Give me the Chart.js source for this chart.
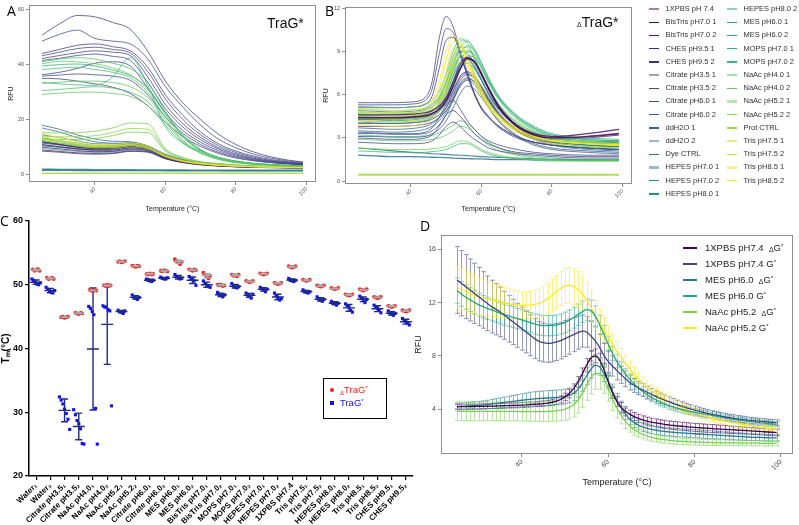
<!DOCTYPE html>
<html><head><meta charset="utf-8"><title>Thermal shift panels</title>
<script src="https://cdn.jsdelivr.net/npm/chart.js@4.4.1/dist/chart.umd.min.js"></script>
<style>
html,body{margin:0;padding:0;background:#fff;}
#wrap{position:relative;width:799px;height:525px;overflow:hidden;background:#fff;font-family:"Liberation Sans",Arial,sans-serif;}
#wrap canvas{position:absolute;}
.t{position:absolute;white-space:nowrap;line-height:1;}
.panel{font-family:"Open Sans","Liberation Sans",sans-serif;font-size:14px;color:#000;}
.lgA{position:absolute;height:10px;font-size:7.5px;color:#333;white-space:nowrap;line-height:10px;width:80px;}
.lgA i{position:absolute;left:0;top:50%;width:10px;}
.lgA span{position:absolute;left:16.5px;top:0;}
.lgD{position:absolute;height:12px;font-size:9.5px;color:#222;white-space:nowrap;line-height:12px;width:100px;}
.lgD i{position:absolute;left:0;top:50%;width:14px;height:2px;margin-top:-1px;}
.lgD span.tx{position:absolute;left:22px;top:0;}
.lgD sup,.lgC sup{font-size:6px;vertical-align:3px;line-height:0;}
.dl{font-size:7px;position:relative;top:1px;line-height:0;}
.lgC{position:absolute;height:12px;font-size:9.5px;white-space:nowrap;line-height:12px;}
</style></head>
<body><div id="wrap">
<canvas id="cA" width="322" height="215" style="left:0;top:0;width:322px;height:215px"></canvas>
<canvas id="cB" width="322" height="215" style="left:318px;top:0;width:322px;height:215px"></canvas>
<canvas id="cC" width="470" height="315" style="left:0;top:210px;width:470px;height:315px"></canvas>
<canvas id="cD" width="394" height="315" style="left:405px;top:210px;width:394px;height:315px"></canvas>
<div class="t panel" style="left:7px;top:4px">A</div>
<div class="t" style="left:267px;top:16px;font-size:14px;color:#111">TraG*</div>
<div class="t panel" style="left:325px;top:4px">B</div>
<div class="t" style="left:577px;top:15px;font-size:14px;color:#111"><span style="font-size:7px">Δ</span>TraG*</div>
<div class="t panel" style="left:0;top:214px">C</div>
<div class="t panel" style="left:420px;top:219px">D</div>
<div style="position:absolute;left:323px;top:378px;width:64px;height:41px;border:1.5px solid #000;box-sizing:border-box;"></div>
<div id="legA"></div><div id="legC"></div><div id="legD"></div>
</div>
<script>
// ---------------- DATA ----------------
const conditions = ['1XPBS pH 7.4','BisTris pH7.0 1','BisTris pH7.0 2','CHES pH9.5 1','CHES pH9.5 2','Citrate pH3.5 1','Citrate pH3.5 2','Citrate pH6.0 1','Citrate pH6.0 2','ddH2O 1','ddH2O 2','Dye CTRL','HEPES pH7.0 1','HEPES pH7.0 2','HEPES pH8.0 1','HEPES pH8.0 2','MES pH6.0 1','MES pH6.0 2','MOPS pH7.0 1','MOPS pH7.0 2','NaAc pH4.0 1','NaAc pH4.0 2','NaAc pH5.2 1','NaAc pH5.2 2','Prot CTRL','Tris pH7.5 1','Tris pH7.5 2','Tris pH8.5 1','Tris pH8.5 2'];
const legendSoft = [0,5,10,12,15,20,22,25,27];

// Panel A (TraG*) – temperatures and RFU curves
const tempA = [25,30,35,40,45,50,55,60,65,70,75,80,85,90,95,99];
const A_c1 = [50.7,54.8,57.8,57.3,55.3,52.8,44.8,34.0,26.0,20.0,14.8,11.0,8.3,6.5,5.3,4.7];
const A_c2 = [48.5,51.0,52.5,49.5,48.5,47.5,42.0,32.0,24.5,18.0,13.0,9.8,7.5,6.0,5.0,4.5];
const A_c3 = [44.0,45.5,47.0,47.5,46.5,45.0,39.0,29.0,21.5,15.5,11.3,8.6,6.8,5.5,4.7,4.2];
const A_c4 = [43.2,44.5,45.8,46.3,45.5,44.2,37.5,27.5,20.0,14.5,10.6,8.1,6.4,5.2,4.5,4.1];
const A_c5 = [42.2,43.3,44.3,45.0,44.5,43.3,35.5,25.5,18.5,13.5,9.9,7.6,6.0,5.0,4.3,4.0];
const A_c6 = [41.5,42.3,43.3,43.8,43.0,41.5,33.5,24.0,17.3,12.7,9.4,7.2,5.8,4.8,4.2,3.9];
const A_c7 = [36.3,37.2,38.6,40.5,41.0,39.5,31.5,22.5,16.0,11.8,8.8,6.8,5.5,4.6,4.1,3.8];
const A_c8 = [35.8,36.2,36.6,36.3,35.8,34.3,29.0,21.0,15.0,11.0,8.2,6.4,5.3,4.5,4.0,3.7];
const A_c9 = [35.0,34.8,34.0,33.0,31.8,29.5,25.0,19.0,13.8,10.3,7.8,6.1,5.1,4.4,3.9,3.6];
const A_n1 = [41.0,42.0,42.5,42.0,40.5,38.5,33.5,23.0,14.5,9.2,6.4,5.0,4.2,3.7,3.4,3.2];
const A_n2 = [40.3,41.2,41.0,40.3,38.8,36.3,31.0,22.0,14.0,9.0,6.2,4.8,4.1,3.7,3.4,3.2];
const A_n3 = [38.2,38.7,39.0,38.2,37.2,35.2,30.0,21.0,13.5,8.7,6.0,4.7,4.0,3.6,3.3,3.1];
const A_n4 = [33.5,33.0,32.6,32.5,35.5,42.5,32.5,17.5,11.5,8.5,6.3,5.0,4.2,3.7,3.4,3.2];
const A_n5 = [33.2,33.6,34.0,34.0,33.5,32.0,28.0,20.0,12.5,8.2,5.8,4.6,3.9,3.5,3.3,3.1];
const A_n6 = [30.5,31.0,31.5,32.0,31.5,30.0,26.5,19.0,12.0,8.0,5.7,4.5,3.9,3.5,3.2,3.0];
const A_n7 = [29.2,29.6,30.0,30.0,29.5,28.5,25.0,18.0,11.5,7.8,5.6,4.4,3.8,3.4,3.2,3.0];
const A_n8 = [39.5,40.0,40.2,39.5,38.0,36.0,31.5,22.5,14.0,9.0,6.2,4.9,4.1,3.7,3.4,3.2];
const A_l1 = [18.0,16.5,14.5,13.0,12.2,12.0,10.5,7.5,5.5,4.5,3.8,3.4,3.1,2.9,2.8,2.7];
const A_l2 = [17.0,15.5,13.5,12.0,11.5,11.5,10.0,7.2,5.3,4.3,3.7,3.3,3.0,2.9,2.8,2.7];
const A_l3 = [15.3,15.2,15.3,15.8,17.0,18.8,18.5,9.5,6.3,4.8,4.1,3.6,3.3,3.1,3.0,2.9];
const A_l4 = [14.0,13.8,13.8,14.2,15.3,16.8,16.5,9.0,6.0,4.6,4.0,3.5,3.2,3.0,2.9,2.8];
const A_l5 = [13.0,12.8,12.8,13.2,14.2,15.5,15.3,8.6,5.8,4.5,3.9,3.5,3.2,3.0,2.9,2.8];
const A_l6 = [15.0,13.5,12.0,11.0,11.0,11.5,10.5,7.2,5.2,4.2,3.6,3.2,3.0,2.8,2.7,2.6];
const A_l7 = [14.0,12.5,11.5,10.5,10.5,11.0,10.0,6.9,5.0,4.1,3.5,3.2,2.9,2.8,2.7,2.6];
const A_l8 = [13.0,12.0,11.0,10.2,10.2,10.8,9.8,6.7,4.9,4.0,3.5,3.1,2.9,2.8,2.7,2.6];
const A_l9 = [12.5,11.5,10.5,9.8,9.8,10.5,9.5,6.5,4.8,3.9,3.4,3.1,2.9,2.7,2.6,2.5];
const A_l10 = [11.0,10.2,9.5,9.0,9.0,9.8,9.2,6.4,4.8,3.9,3.4,3.1,2.9,2.8,2.7,2.6];
const A_l11 = [10.0,9.4,8.8,8.4,8.5,9.3,8.8,6.1,4.6,3.8,3.3,3.0,2.8,2.7,2.6,2.5];
const A_l12 = [9.0,8.5,8.0,7.8,7.9,8.7,8.4,5.9,4.5,3.7,3.2,2.9,2.7,2.6,2.5,2.5];
const A_l13 = [8.6,8.2,7.7,7.5,7.7,8.5,8.2,5.8,4.4,3.6,3.2,2.9,2.7,2.6,2.5,2.4];
const A_l14 = [12.0,11.0,10.0,9.5,9.6,10.3,9.8,7.0,5.2,4.2,3.6,3.2,3.0,2.9,2.8,2.7];
const A_l15 = [11.5,10.8,10.0,9.6,9.8,10.6,9.8,6.8,5.0,4.1,3.5,3.2,2.9,2.8,2.7,2.6];
const A_l16 = [10.5,10.0,9.4,9.1,9.3,10.2,9.5,6.6,4.9,4.0,3.5,3.1,2.9,2.8,2.7,2.6];
const A_l17 = [11.8,11.0,10.2,9.8,10.0,10.8,10.0,7.0,5.1,4.2,3.6,3.2,3.0,2.8,2.7,2.6];
const A_l18 = [12.5,11.5,10.7,10.2,10.3,11.0,10.2,7.1,5.2,4.2,3.6,3.2,3.0,2.8,2.7,2.6];
const A_l19 = [13.5,12.5,11.5,10.8,10.8,11.5,10.5,7.3,5.3,4.3,3.7,3.3,3.0,2.9,2.8,2.7];
const A_l20 = [13.0,12.0,11.0,10.4,10.5,11.2,10.3,7.2,5.2,4.2,3.6,3.2,3.0,2.8,2.7,2.6];
const A_l21 = [10.8,10.0,9.3,8.8,8.9,9.6,9.0,6.3,4.7,3.9,3.4,3.0,2.8,2.7,2.6,2.5];
const A_l22 = [9.5,9.0,8.5,8.2,8.3,9.0,8.6,6.0,4.6,3.8,3.3,3.0,2.8,2.7,2.6,2.5];
const A_l23 = [14.5,13.5,12.3,11.3,11.2,11.6,10.4,7.2,5.2,4.2,3.6,3.2,3.0,2.8,2.7,2.6];
const A_l24 = [12.0,11.2,10.4,9.9,10.0,10.8,9.9,6.9,5.0,4.1,3.5,3.1,2.9,2.8,2.7,2.6];
const A_f1 = [2.0,1.95,1.9,1.85,1.8,1.8,1.75,1.7,1.7,1.65,1.65,1.6,1.6,1.6,1.6,1.6];
const A_f2 = [1.6,1.6,1.55,1.55,1.5,1.5,1.5,1.45,1.45,1.45,1.45,1.4,1.4,1.4,1.4,1.4];
const A_f3 = [0.55,0.55,0.55,0.55,0.55,0.55,0.55,0.55,0.55,0.55,0.55,0.55,0.55,0.55,0.55,0.55];
// [condition index, values, line width] – first entries are drawn on top
const seriesA = [[28,A_l6],[27,A_l7],[26,A_l8],[25,A_l9],[24,A_f3,1.6],[11,A_f1,1.6],[11,A_f2,1.2],
  [22,A_l3],[23,A_l4],[22,A_l5],[9,A_l1],[10,A_l2],[1,A_l10],[2,A_l11],[3,A_l12],[4,A_l13],[0,A_l14],
  [7,A_l15],[8,A_l16],[14,A_l17],[15,A_l18],[16,A_l19],[17,A_l20],[18,A_l21],[19,A_l22],[12,A_l23],[13,A_l24],
  [20,A_n1],[21,A_n2],[20,A_n3],[19,A_n4],[21,A_n5],[20,A_n6],[21,A_n7],[18,A_n8],
  [5,A_c1],[6,A_c2],[5,A_c3],[6,A_c4],[5,A_c5],[6,A_c6],[5,A_c7],[6,A_c8],[5,A_c9]];

// Panel B (ΔTraG*)
const tempB = [25,30,35,40,44,46,48,50,52,54,56,58,60,62,65,70,75,80,90,99];
const B_b1 = [5.45,5.45,5.45,5.5,5.8,6.9,9.9,11.45,10.7,9.0,7.6,6.1,5.1,4.5,3.8,3.1,2.7,2.5,2.3,2.2];
const B_b2 = [5.3,5.3,5.3,5.35,5.6,6.4,8.8,10.6,10.3,8.8,7.3,6.0,5.0,4.4,3.7,3.0,2.7,2.5,2.3,2.2];
const B_b3 = [5.1,5.1,5.1,5.15,5.35,5.9,7.8,9.8,10.0,8.8,7.4,6.1,5.1,4.5,3.8,3.1,2.7,2.5,2.3,2.2];
const B_b4 = [3.4,3.35,3.3,3.3,3.4,3.7,4.4,5.3,5.6,5.0,4.2,3.6,3.1,2.8,2.5,2.2,2.0,1.9,1.8,1.8];
const B_b5 = [3.0,2.95,2.9,2.9,3.0,3.2,3.8,4.6,4.9,4.5,3.9,3.3,2.9,2.6,2.3,2.0,1.9,1.8,1.7,1.7];
const B_b6 = [2.7,2.65,2.6,2.6,2.65,2.8,3.2,3.8,4.1,3.8,3.3,2.9,2.6,2.3,2.1,1.9,1.8,1.7,1.6,1.6];
const B_y1 = [5.0,4.95,4.9,4.95,5.1,5.6,6.9,9.0,10.1,9.5,8.3,7.0,5.9,5.1,4.3,3.5,3.0,2.8,2.6,2.5];
const B_y2 = [4.8,4.75,4.7,4.75,4.9,5.3,6.4,8.4,9.7,9.6,8.6,7.3,6.2,5.3,4.4,3.6,3.1,2.8,2.6,2.5];
const B_y3 = [4.6,4.55,4.5,4.55,4.7,5.0,5.9,7.6,9.2,9.4,8.6,7.4,6.3,5.4,4.5,3.6,3.1,2.8,2.6,2.5];
const B_y4 = [4.4,4.35,4.3,4.35,4.5,4.8,5.5,7.0,8.7,9.2,8.6,7.5,6.4,5.5,4.6,3.7,3.2,2.9,2.7,2.6];
const B_y5 = [4.2,4.15,4.1,4.15,4.3,4.6,5.2,6.5,8.2,8.8,8.3,7.3,6.3,5.4,4.5,3.6,3.1,2.8,2.6,2.5];
const B_y6 = [3.9,3.85,3.8,3.85,4.0,4.3,4.9,6.0,7.6,8.3,8.0,7.1,6.1,5.2,4.3,3.4,2.9,2.6,2.4,2.3];
const B_g1 = [5.2,5.15,5.1,5.15,5.3,5.6,6.2,7.4,9.0,9.9,9.6,8.6,7.5,6.5,5.3,4.1,3.4,3.0,2.7,2.6];
const B_g2 = [5.0,4.95,4.9,4.95,5.1,5.4,5.9,7.0,8.6,9.7,9.8,9.0,7.9,6.8,5.6,4.3,3.5,3.1,2.8,2.7];
const B_g3 = [4.8,4.75,4.7,4.75,4.9,5.15,5.6,6.5,8.0,9.3,9.7,9.2,8.2,7.1,5.8,4.5,3.7,3.2,2.9,2.8];
const B_g4 = [4.6,4.55,4.5,4.55,4.7,4.9,5.3,6.1,7.4,8.8,9.4,9.1,8.2,7.2,5.9,4.6,3.8,3.3,3.0,2.9];
const B_g5 = [4.4,4.35,4.3,4.35,4.5,4.7,5.1,5.8,7.0,8.3,9.0,8.8,8.0,7.0,5.8,4.5,3.7,3.2,2.9,2.8];
const B_g6 = [4.2,4.15,4.1,4.15,4.3,4.5,4.9,5.5,6.6,7.9,8.7,8.6,7.8,6.9,5.7,4.4,3.6,3.1,2.8,2.7];
const B_g7 = [4.7,4.65,4.6,4.65,4.8,5.1,5.7,6.8,8.3,9.3,9.3,8.5,7.4,6.4,5.2,4.0,3.3,2.9,2.6,2.5];
const B_g8 = [4.5,4.45,4.4,4.45,4.6,4.9,5.4,6.4,7.8,8.9,9.1,8.5,7.5,6.5,5.3,4.1,3.4,3.0,2.7,2.6];
const B_t1 = [4.9,4.85,4.8,4.85,5.0,5.3,5.8,6.8,8.2,9.0,8.9,8.1,7.1,6.1,5.0,3.9,3.2,2.8,2.5,2.4];
const B_t2 = [4.5,4.45,4.4,4.45,4.6,4.9,5.4,6.3,7.7,8.6,8.6,7.9,7.0,6.0,4.9,3.8,3.1,2.7,2.4,2.3];
const B_t3 = [4.3,4.25,4.2,4.25,4.4,4.6,5.1,6.0,7.3,8.3,8.5,7.9,7.0,6.1,5.0,3.9,3.2,2.8,2.5,2.4];
const B_t4 = [4.1,4.05,4.0,4.05,4.2,4.4,4.8,5.6,6.8,7.9,8.2,7.8,7.0,6.1,5.0,3.9,3.2,2.8,2.5,2.4];
const B_t5 = [3.7,3.65,3.6,3.65,3.8,4.0,4.4,5.1,6.2,7.2,7.5,7.1,6.4,5.6,4.6,3.6,3.0,2.6,2.3,2.2];
const B_t6 = [3.5,3.45,3.4,3.45,3.6,3.8,4.2,4.8,5.8,6.8,7.2,6.9,6.2,5.5,4.5,3.5,2.9,2.5,2.2,2.1];
const B_p0 = [4.4,4.4,4.4,4.45,4.55,4.7,5.0,5.6,6.6,7.8,8.5,8.3,7.4,6.4,5.1,3.8,3.2,3.0,3.1,3.3];
const B_p1 = [4.6,4.6,4.6,4.65,4.75,4.9,5.2,5.8,6.9,8.1,8.6,8.3,7.5,6.5,5.2,3.9,3.3,3.1,3.3,3.6];
const B_p2 = [4.3,4.3,4.3,4.35,4.45,4.6,4.9,5.4,6.3,7.3,7.6,7.3,6.6,5.8,4.7,3.6,3.1,2.9,3.0,3.2];
const B_p3 = [4.0,4.0,4.0,4.05,4.15,4.3,4.6,5.1,6.0,7.0,7.4,7.2,6.5,5.7,4.7,3.6,3.0,2.8,2.7,2.8];
const B_p4 = [3.8,3.8,3.8,3.85,3.95,4.1,4.4,4.9,5.7,6.7,7.1,6.9,6.3,5.6,4.6,3.5,2.9,2.7,2.6,2.7];
const B_c7 = [3.3,3.3,3.25,3.25,3.3,3.5,3.9,4.6,5.6,6.6,7.0,6.7,6.0,5.2,4.2,3.2,2.6,2.3,2.1,2.0];
const B_c8 = [3.1,3.1,3.05,3.05,3.1,3.3,3.6,4.2,5.1,6.1,6.6,6.4,5.8,5.1,4.1,3.1,2.5,2.2,2.0,1.9];
const B_lg1 = [3.2,3.15,3.1,3.1,3.15,3.2,3.35,3.6,3.9,4.2,4.0,3.6,3.1,2.7,2.3,1.9,1.7,1.6,1.5,1.5];
const B_lg2 = [2.9,2.85,2.8,2.8,2.85,2.9,3.0,3.2,3.5,3.8,3.7,3.3,2.9,2.5,2.1,1.8,1.6,1.5,1.45,1.45];
const B_lg3 = [2.3,2.25,2.2,2.2,2.2,2.25,2.3,2.4,2.6,2.8,2.75,2.5,2.2,2.0,1.8,1.6,1.5,1.45,1.4,1.4];
const B_lg4 = [2.1,2.05,2.0,2.0,2.0,2.05,2.1,2.2,2.4,2.6,2.6,2.4,2.1,1.9,1.7,1.55,1.45,1.4,1.4,1.4];
const B_d1 = [1.8,1.75,1.7,1.7,1.68,1.66,1.65,1.63,1.6,1.58,1.56,1.55,1.54,1.52,1.5,1.5,1.48,1.47,1.45,1.45];
const B_d2 = [2.3,2.2,2.1,2.0,1.95,1.9,1.88,1.86,1.82,1.8,1.77,1.74,1.7,1.68,1.65,1.6,1.55,1.52,1.5,1.48];
const B_pc = [0.45,0.45,0.45,0.45,0.45,0.45,0.45,0.45,0.45,0.45,0.45,0.45,0.45,0.45,0.45,0.45,0.45,0.45,0.45,0.45];
const seriesB = [[0,B_p0,1.6],[1,B_p1,1.2],[28,B_y1],[27,B_y2],[26,B_y3],[25,B_y4],[28,B_y5],[27,B_y6],
  [20,B_g1],[21,B_g2],[19,B_g3],[18,B_g4],[17,B_g5],[16,B_g6],[22,B_g7],[23,B_g8],
  [12,B_t1],[13,B_t2],[14,B_t3],[15,B_t4],[9,B_t5],[10,B_t6],[2,B_p2],[3,B_p3],[4,B_p4],[7,B_c7],[8,B_c8],
  [5,B_b1],[6,B_b2],[5,B_b3],[6,B_b4],[5,B_b5],[6,B_b6],[20,B_lg1],[21,B_lg2],[22,B_lg3],[19,B_lg4],
  [11,B_d1,1.3],[11,B_d2,1.1],[24,B_pc,2]];

// Panel C – Tm (°C) replicates
const categories = ['Water₁','Water₂','Citrate pH3.5₁','Citrate pH3.5₂','NaAc pH4.0₁','NaAc pH4.0₂','NaAc pH5.2₁','NaAc pH5.2₂','Citrate pH6.0₁','Citrate pH6.0₂','MES pH6.0₁','MES pH6.0₂','BisTris pH7.0₁','BisTris pH7.0₂','MOPS pH7.0₁','MOPS pH7.0₂','HEPES pH7.0₁','HEPES pH7.0₂','1XPBS pH7.4','Tris pH7.5₁','Tris pH7.5₂','HEPES pH8.0₁','HEPES pH8.0₂','Tris pH8.5₁','Tris pH8.5₂','CHES pH9.5₁','CHES pH9.5₂'];
const tmDelta = [[52.4,52.2,52.3,52.5,52.2],[51.1,50.9,51.0,51.1,50.9],[44.9,45.0,44.8,44.9,45.0],[45.6,45.5,45.4,45.6,45.5],[49.2,49.1,49.0,49.2,49.1],[49.9,49.8,50.0,49.8,49.9],[53.6,53.7,53.5,53.6,53.7],[53.0,52.9,52.8,53.0,52.9],[51.7,51.6,51.8,51.6,51.7],[52.2,52.1,52.3,52.2,52.1],[54.0,53.7,53.5,53.2,53.6],[52.4,52.3,52.2,52.4,52.3],[51.9,51.6,51.3,51.0,51.4],[50.0,49.9,50.0,49.8,49.9],[51.6,51.4,51.5,51.3,51.6],[50.6,50.5,50.4,50.5,50.6],[51.8,51.7,51.6,51.7,51.8],[50.3,50.2,50.1,50.2,50.3],[52.9,52.8,52.7,52.8,52.9],[50.8,50.7,50.6,50.7,50.8],[49.9,49.8,49.7,49.8,49.9],[49.5,49.4,49.3,49.4,49.5],[48.5,48.4,48.3,48.4,48.5],[49.3,49.2,49.1,49.2,49.3],[48.1,48.0,47.9,48.0,48.1],[46.7,46.6,46.5,46.6,46.7],[46.0,45.9,45.8,45.9,46.0]];
const tmFull = [[50.9,50.7,50.4,50.1,50.0,50.3],[49.6,49.3,49.0,48.8,48.7,49.1],[32.4,31.9,31.3,30.5,29.8,28.9,27.3],[30.4,29.6,28.7,28.2,27.4,25.1,25.0],[46.6,46.3,45.8,45.3,30.6,25.0],[46.7,46.5,46.5,46.1,45.9,31.0],[46.0,45.8,45.7,45.5,45.9],[48.4,48.1,47.9,47.7,48.0],[50.9,50.8,50.6,50.5,50.7],[51.2,51.0,50.9,50.9,51.1],[51.6,51.3,51.1,50.9,51.0],[51.3,50.9,50.8,50.6,49.9],[50.6,50.2,49.9,49.7,49.6],[48.8,48.5,48.3,48.1,48.4],[50.2,49.8,49.6,49.5,49.7],[48.7,48.4,48.2,47.9,48.5],[49.6,49.4,49.2,48.9,49.3],[48.7,48.3,48.0,47.6,47.8],[51.0,50.8,50.6,50.5,50.7],[49.2,49.0,48.8,48.7,48.9],[48.1,47.8,47.6,47.4,47.7],[47.4,47.2,47.0,46.8,47.1],[47.0,46.7,46.5,46.0,45.7],[48.2,47.9,47.6,47.2,47.7],[46.8,46.5,46.3,46.0,45.6],[45.9,45.6,45.4,45.2,45.5],[44.7,44.4,44.2,44.0,43.7]];
const cNames = ['TraG*','TraG*'];

// Panel D – mean RFU and SD, one value per °C from 25 to 99
const tempD = [25,26,27,28,29,30,31,32,33,34,35,36,37,38,39,40,41,42,43,44,45,46,47,48,49,50,51,52,53,54,55,56,57,58,59,60,61,62,63,64,65,66,67,68,69,70,71,72,73,74,75,76,77,78,79,80,81,82,83,84,85,86,87,88,89,90,91,92,93,94,95,96,97,98,99];
const dNames = ['1XPBS pH7.4','1XPBS pH7.4','MES pH6.0','MES pH6.0','NaAc pH5.2','NaAc pH5.2'];
const dForms = ['ΔG*','G*','ΔG*','G*','ΔG*','G*'];
const D_pbsDelta = [4.20,4.20,4.20,4.21,4.21,4.22,4.22,4.23,4.24,4.25,4.26,4.27,4.28,4.29,4.30,4.32,4.34,4.36,4.38,4.40,4.43,4.47,4.53,4.62,4.75,4.93,5.18,5.55,6.05,6.65,7.30,7.85,8.00,7.70,7.00,6.10,5.25,4.60,4.15,3.85,3.62,3.45,3.32,3.21,3.12,3.04,2.98,2.92,2.87,2.83,2.79,2.76,2.73,2.70,2.67,2.64,2.62,2.60,2.58,2.56,2.54,2.52,2.50,2.48,2.46,2.44,2.42,2.40,2.38,2.36,2.34,2.32,2.30,2.28,2.26];
const D_pbsG = [13.70,13.45,13.20,12.95,12.70,12.45,12.20,11.95,11.70,11.50,11.30,11.05,10.80,10.55,10.30,10.05,9.80,9.55,9.30,9.10,9.00,8.95,8.97,9.05,9.15,9.30,9.45,9.60,9.75,9.87,9.80,9.50,9.15,8.65,8.05,7.60,7.25,6.90,6.60,6.30,6.00,5.80,5.60,5.45,5.28,5.12,4.97,4.83,4.70,4.57,4.45,4.34,4.23,4.13,4.03,3.94,3.86,3.78,3.70,3.63,3.56,3.50,3.44,3.39,3.34,3.29,3.25,3.21,3.17,3.14,3.11,3.08,3.05,3.02,3.00];
const D_mesDelta = [4.20,4.22,4.24,4.26,4.28,4.30,4.33,4.36,4.40,4.44,4.48,4.52,4.56,4.60,4.64,4.68,4.72,4.76,4.79,4.81,4.83,4.85,4.87,4.89,4.92,4.97,5.05,5.20,5.50,5.95,6.50,7.00,7.30,7.20,6.70,6.10,5.35,4.70,4.15,3.65,3.25,3.00,2.82,2.68,2.57,2.49,2.43,2.38,2.34,2.31,2.28,2.25,2.23,2.21,2.19,2.17,2.15,2.13,2.11,2.09,2.07,2.05,2.03,2.01,1.99,1.97,1.95,1.93,1.91,1.90,1.89,1.88,1.87,1.86,1.85];
const D_mesG = [12.90,12.65,12.42,12.22,12.03,11.85,11.70,11.57,11.45,11.33,11.20,11.10,11.00,10.90,10.80,10.70,10.60,10.50,10.40,10.32,10.28,10.27,10.28,10.32,10.40,10.52,10.68,10.88,11.10,11.32,11.47,11.40,11.00,10.35,9.65,8.90,8.20,7.60,7.10,6.65,6.25,5.90,5.60,5.33,5.10,4.90,4.72,4.56,4.42,4.30,4.19,4.09,4.00,3.92,3.85,3.78,3.72,3.66,3.60,3.55,3.47,3.41,3.35,3.30,3.25,3.20,3.16,3.12,3.08,3.04,3.00,2.96,2.93,2.90,2.87];
const D_naacDelta = [3.85,3.85,3.85,3.85,3.85,3.85,3.85,3.85,3.85,3.85,3.85,3.85,3.84,3.84,3.83,3.83,3.82,3.82,3.82,3.82,3.83,3.84,3.86,3.89,3.94,4.02,4.15,4.35,4.70,5.20,5.80,6.35,6.70,6.70,6.30,5.60,4.80,4.10,3.55,3.10,2.75,2.48,2.28,2.12,2.00,1.90,1.83,1.77,1.72,1.68,1.65,1.62,1.60,1.58,1.56,1.55,1.54,1.53,1.52,1.51,1.50,1.50,1.49,1.49,1.48,1.48,1.47,1.47,1.46,1.46,1.46,1.45,1.45,1.45,1.45];
const D_naacG = [13.15,13.00,12.85,12.70,12.57,12.45,12.37,12.28,12.20,12.14,12.08,12.00,11.93,11.86,11.82,11.80,11.80,11.82,11.87,11.95,12.10,12.30,12.55,12.80,13.05,13.25,13.30,13.20,13.00,12.65,12.20,11.70,11.05,10.45,9.95,9.40,8.85,8.35,7.90,7.45,7.05,6.65,6.30,5.98,5.70,5.44,5.20,4.98,4.78,4.60,4.43,4.27,4.12,3.98,3.85,3.73,3.62,3.52,3.43,3.35,3.27,3.19,3.12,3.05,2.99,2.93,2.87,2.82,2.77,2.72,2.67,2.62,2.57,2.52,2.48];
const D_pbsDeltaSd = [.18,.18,.18,.18,.18,.18,.18,.18,.18,.18,.18,.18,.18,.18,.18,.18,.18,.18,.18,.18,.20,.20,.22,.24,.26,.28,.32,.36,.40,.45,.50,.52,.52,.50,.46,.42,.40,.38,.36,.34,.32,.31,.30,.30,.30,.30,.30,.30,.30,.30,.30,.30,.30,.30,.30,.30,.30,.30,.30,.30,.29,.29,.28,.28,.27,.27,.26,.26,.25,.25,.25,.25,.25,.25,.25];
const D_pbsGSd = [2.50,2.45,2.40,2.33,2.26,2.19,2.12,2.05,1.98,1.92,1.86,1.80,1.75,1.70,1.65,1.61,1.57,1.53,1.50,1.47,1.45,1.43,1.41,1.39,1.37,1.35,1.32,1.28,1.24,1.20,1.15,1.10,1.03,0.96,0.89,0.82,0.76,0.70,0.65,0.60,0.56,0.53,0.50,0.47,0.45,0.43,0.41,0.39,0.38,0.37,0.36,0.35,0.34,0.33,0.32,0.31,0.30,0.29,0.28,0.27,0.27,0.26,0.26,0.25,0.25,0.24,0.24,0.23,0.23,0.22,0.22,0.22,0.21,0.21,0.21];
const D_mesDeltaSd = [.25,.25,.26,.27,.28,.29,.30,.32,.34,.36,.38,.40,.42,.44,.46,.48,.50,.52,.53,.54,.55,.55,.55,.55,.55,.55,.55,.56,.58,.60,.62,.64,.65,.64,.62,.58,.54,.50,.46,.42,.40,.38,.36,.34,.33,.32,.31,.30,.30,.30,.30,.30,.30,.30,.30,.30,.30,.30,.30,.30,.29,.29,.28,.28,.27,.27,.26,.26,.25,.25,.25,.25,.25,.25,.25];
const D_mesGSd = [.95,.93,.91,.89,.87,.85,.84,.83,.82,.81,.80,.79,.78,.78,.77,.77,.76,.76,.76,.76,.76,.76,.76,.76,.76,.77,.78,.79,.80,.80,.80,.78,.75,.70,.64,.58,.53,.49,.45,.42,.40,.38,.36,.35,.34,.33,.32,.31,.30,.30,.29,.29,.28,.28,.27,.27,.26,.26,.25,.25,.25,.24,.24,.23,.23,.23,.22,.22,.22,.22,.21,.21,.21,.20,.20];
const D_naacDeltaSd = [.70,.70,.70,.70,.70,.70,.70,.70,.70,.70,.70,.70,.70,.70,.70,.70,.70,.71,.72,.73,.74,.75,.76,.78,.80,.83,.87,.92,.98,1.05,1.12,1.18,1.20,1.18,1.10,1.00,.88,.76,.64,.54,.46,.40,.36,.33,.31,.29,.28,.27,.26,.25,.25,.24,.24,.24,.23,.23,.23,.22,.22,.22,.22,.21,.21,.21,.21,.20,.20,.20,.20,.20,.20,.20,.20,.20,.20];
const D_naacGSd = [1.60,1.56,1.52,1.48,1.44,1.40,1.36,1.32,1.28,1.24,1.20,1.16,1.12,1.08,1.04,1.00,1.00,1.02,1.04,1.07,1.10,1.14,1.18,1.22,1.26,1.30,1.33,1.34,1.33,1.30,1.25,1.18,1.10,1.02,0.94,0.86,0.79,0.72,0.66,0.60,.55,.51,.48,.45,.42,.40,.38,.36,.35,.34,.33,.32,.31,.30,.30,.29,.29,.28,.28,.27,.27,.26,.26,.26,.25,.25,.25,.24,.24,.24,.23,.23,.23,.22,.22];
const seriesDMean = [D_pbsDelta,D_pbsG,D_mesDelta,D_mesG,D_naacDelta,D_naacG];
const seriesDSd = [D_pbsDeltaSd,D_pbsGSd,D_mesDeltaSd,D_mesGSd,D_naacDeltaSd,D_naacGSd];

// ---------------- COLOURS / HELPERS ----------------
const VIR = ['#440154','#482878','#3E4A89','#31688E','#26828E','#1F9E89','#35B779','#6DCD59','#B4DE2C','#FDE725'];
const VIR6 = ['#440154','#414487','#2A788E','#22A884','#7AD151','#FDE725'];
function hex2rgb(h){return [1,3,5].map(i=>parseInt(h.substr(i,2),16));}
function viridis(t){const p=Math.max(0,Math.min(1,t))*9;const i=Math.min(8,Math.floor(p));const f=p-i;const a=hex2rgb(VIR[i]),b=hex2rgb(VIR[i+1]);return a.map((v,k)=>Math.round(v+(b[k]-v)*f));}
function rgba(c,a){return `rgba(${c[0]},${c[1]},${c[2]},${a})`;}
const condColor = i => viridis(i/(conditions.length-1));
const mean = a => a.reduce((s,v)=>s+v,0)/a.length;
const sdev = a => {const m=mean(a);return Math.sqrt(a.reduce((s,v)=>s+(v-m)*(v-m),0)/(a.length-1));};

Chart.defaults.font.family = '"Liberation Sans", Arial, sans-serif';
Chart.defaults.animation = false;

const boxPlugin = {id:'box',afterDraw(c){const a=c.chartArea,ctx=c.ctx;ctx.save();ctx.strokeStyle='#8f8f8f';ctx.lineWidth=1;ctx.strokeRect(Math.round(a.left)+0.5,Math.round(a.top)+0.5,Math.round(a.right-a.left)-1,Math.round(a.bottom-a.top)-1);ctx.restore();}};
const fixTicks = vals => s => { s.ticks = vals.map(v=>({value:v})); };

function rfuScales(o){
  return {
    x:{type:'linear',min:o.xmin,max:o.xmax,afterBuildTicks:fixTicks(o.xt),afterFit:s=>{s.height=o.xH;},
      ticks:{font:{size:o.tf},color:'#4d4d4d',minRotation:45,maxRotation:45,padding:1,autoSkip:false},
      grid:{display:true,drawOnChartArea:false,drawTicks:true,tickLength:3,color:'#8f8f8f'},border:{display:false},
      title:{display:true,text:'Temperature (°C)',font:{size:o.ttf},color:'#222',padding:{top:1,bottom:2}}},
    y:{type:'linear',min:o.ymin,max:o.ymax,afterBuildTicks:fixTicks(o.yt),afterFit:s=>{s.width=o.yW;},
      ticks:{font:{size:o.tf},color:'#4d4d4d',padding:2},
      grid:{display:true,drawOnChartArea:false,drawTicks:true,tickLength:3,color:'#8f8f8f'},border:{display:false},
      title:{display:true,text:'RFU',font:{size:o.ytf},color:'#222',padding:{top:2,bottom:2}}}
  };
}
function baseOpts(pad){return {responsive:false,maintainAspectRatio:false,devicePixelRatio:1,animation:false,events:[],
  layout:{padding:pad},plugins:{legend:{display:false},tooltip:{enabled:false}}};}
function lineSets(temps,list,alpha){return list.map(([ci,vals,w])=>({data:vals.map((v,i)=>({x:temps[i],y:v})),
  borderColor:rgba(condColor(ci),alpha),borderWidth:w||0.9,pointRadius:0,fill:false,cubicInterpolationMode:'monotone'}));}

// ---------------- PANEL A ----------------
new Chart(document.getElementById('cA'),{type:'line',data:{datasets:lineSets(tempA,seriesA,0.85)},
  options:Object.assign(baseOpts({top:5,right:6,left:5,bottom:0}),{scales:rfuScales({xmin:21.3,xmax:102.7,xt:[40,60,80,100],ymin:-2.6,ymax:61.5,yt:[0,20,40,60],xH:33,yW:24,tf:5.5,ttf:7,ytf:7})}),
  plugins:[boxPlugin]});

// ---------------- PANEL B ----------------
new Chart(document.getElementById('cB'),{type:'line',data:{datasets:lineSets(tempB,seriesB,0.85)},
  options:Object.assign(baseOpts({top:7,right:8,left:2,bottom:0}),{scales:rfuScales({xmin:21.3,xmax:102.7,xt:[40,60,80,100],ymin:-0.2,ymax:12.1,yt:[0,3,6,9,12],xH:31,yW:25,tf:5.5,ttf:7,ytf:7})}),
  plugins:[boxPlugin]});

// legend for A/B
const legA=document.getElementById('legA');
conditions.forEach((name,i)=>{const col=i<15?0:1,row=i<15?i:i-15,soft=legendSoft.includes(i);
  const d=document.createElement('div');d.className='lgA';d.style.left=(col?727:649)+'px';d.style.top=(9+13.2*row-5)+'px';
  d.innerHTML=`<i style="height:${soft?2.5:1.4}px;margin-top:${soft?-1.25:-0.7}px;background:${rgba(condColor(i),soft?0.5:1)}"></i><span>${name}</span>`;
  legA.appendChild(d);});

// ---------------- PANEL C ----------------
function jitterPts(reps){const pts=[];reps.forEach((r,i)=>{const n=r.length;r.forEach((v,j)=>pts.push({x:i+(j-(n-1)/2)*0.12,y:v}));});return pts;}
function drawStats(chart,reps,color,half,cap){const {ctx,scales:{x,y}}=chart;ctx.save();ctx.strokeStyle=color;ctx.lineWidth=1.4;
  reps.forEach((r,i)=>{const m=mean(r),s=sdev(r),px=x.getPixelForValue(i),pm=y.getPixelForValue(m),pt=y.getPixelForValue(m+s),pb=y.getPixelForValue(m-s);
    ctx.beginPath();ctx.moveTo(px-half,pm);ctx.lineTo(px+half,pm);ctx.moveTo(px,pt);ctx.lineTo(px,pb);
    ctx.moveTo(px-cap,pt);ctx.lineTo(px+cap,pt);ctx.moveTo(px-cap,pb);ctx.lineTo(px+cap,pb);ctx.stroke();});ctx.restore();}
const statPlugin={id:'stats',afterDatasetDraw(chart,args){ if(args.index===1) drawStats(chart,tmFull,'#1e2a8a',6,3.5); if(args.index===0) drawStats(chart,tmDelta,'#a8a8a8',5,3); }};
new Chart(document.getElementById('cC'),{type:'scatter',data:{datasets:[
    {label:'ΔTraG*',data:jitterPts(tmDelta),pointStyle:'circle',pointRadius:1.9,backgroundColor:'#ff1a1a',borderColor:'#ff1a1a',borderWidth:0},
    {label:'TraG*',data:jitterPts(tmFull),pointStyle:'rect',pointRadius:2.2,backgroundColor:'#1010ff',borderColor:'#1010ff',borderWidth:0}]},
  options:Object.assign(baseOpts({top:11,right:57,left:0,bottom:0}),{scales:{
    x:{type:'linear',min:-0.5,max:26.5,afterBuildTicks:s=>{s.ticks=categories.map((c,i)=>({value:i}));},afterFit:s=>{s.height=49;},
      ticks:{callback:v=>categories[v],autoSkip:false,minRotation:45,maxRotation:45,font:{size:8,weight:'bold'},color:'#000',padding:1},
      grid:{display:true,drawOnChartArea:false,drawTicks:true,tickLength:4,color:'#000',lineWidth:1.2},border:{display:true,color:'#000',width:1.5}},
    y:{type:'linear',min:20,max:60,afterFit:s=>{s.width=29;},ticks:{stepSize:10,font:{size:9,weight:'bold'},color:'#000',padding:2},
      grid:{display:true,drawOnChartArea:false,drawTicks:true,tickLength:4,color:'#000',lineWidth:1.2},border:{display:true,color:'#000',width:1.5},
      title:{display:true,text:'Tₘ(°C)',font:{size:10,weight:'bold'},color:'#000',padding:{top:0,bottom:2}}}}}),
  plugins:[statPlugin]});
// legend C
const legC=document.getElementById('legC');
[['#ff1a1a','circle',390],['#1010ff','rect',403]].forEach(([col,shape,cy],k)=>{
  const m=document.createElement('div');m.style.cssText=`position:absolute;left:${k?329.8:330}px;top:${cy-(k?2.2:2)}px;width:${k?4.4:4}px;height:${k?4.4:4}px;background:${col};border-radius:${shape==='circle'?'50%':'0'}`;legC.appendChild(m);
  const t=document.createElement('div');t.className='lgC';t.style.left='340px';t.style.top=(cy-6)+'px';t.style.color=col;
  t.innerHTML=(k===0?'<span style="font-size:6px;vertical-align:-2px">Δ</span>':'')+cNames[k].replace('*','<sup>*</sup>');legC.appendChild(t);});

// ---------------- PANEL D ----------------
const errPlugin={id:'err',beforeDatasetsDraw(chart){const {ctx,chartArea:a,scales:{x,y}}=chart;ctx.save();ctx.beginPath();ctx.rect(a.left,a.top,a.right-a.left,a.bottom-a.top);ctx.clip();
  chart.data.datasets.forEach(ds=>{ctx.strokeStyle=ds.errColor;ctx.lineWidth=1;ctx.beginPath();
    ds.data.forEach((p,j)=>{const px=Math.round(x.getPixelForValue(p.x))+0.5,yt=y.getPixelForValue(p.y+ds.sd[j]),yb=y.getPixelForValue(p.y-ds.sd[j]);
      ctx.moveTo(px,yt);ctx.lineTo(px,yb);ctx.moveTo(px-2.5,yt);ctx.lineTo(px+2.5,yt);ctx.moveTo(px-2.5,yb);ctx.lineTo(px+2.5,yb);});
    ctx.stroke();});ctx.restore();}};
const dSets=seriesDMean.map((vals,k)=>({data:vals.map((v,i)=>({x:tempD[i],y:v})),sd:seriesDSd[k],
  borderColor:VIR6[k],errColor:rgba(hex2rgb(VIR6[k]),0.55),borderWidth:1.3,pointRadius:0,fill:false,cubicInterpolationMode:'monotone'}));
new Chart(document.getElementById('cD'),{type:'line',data:{datasets:dSets},
  options:Object.assign(baseOpts({top:25,right:6,left:6,bottom:35}),{scales:rfuScales({xmin:21.3,xmax:102.8,xt:[40,60,80,100],ymin:0.65,ymax:17.07,yt:[4,8,12,16],xH:36,yW:30,tf:7,ttf:9,ytf:9})}),
  plugins:[errPlugin,boxPlugin]});
// legend D
const legD=document.getElementById('legD');
dNames.forEach((n,k)=>{const d=document.createElement('div');d.className='lgD';d.style.left='683px';d.style.top=(248.3+16*k-6)+'px';
  const f=dForms[k];const form=f.startsWith('Δ')?'&nbsp;&nbsp;<span class="dl">Δ</span>G<sup>*</sup>':' G<sup>*</sup>';
  d.innerHTML=`<i style="background:${VIR6[k]}"></i><span class="tx">${n}${form}</span>`;legD.appendChild(d);});
</script>
</body></html>
